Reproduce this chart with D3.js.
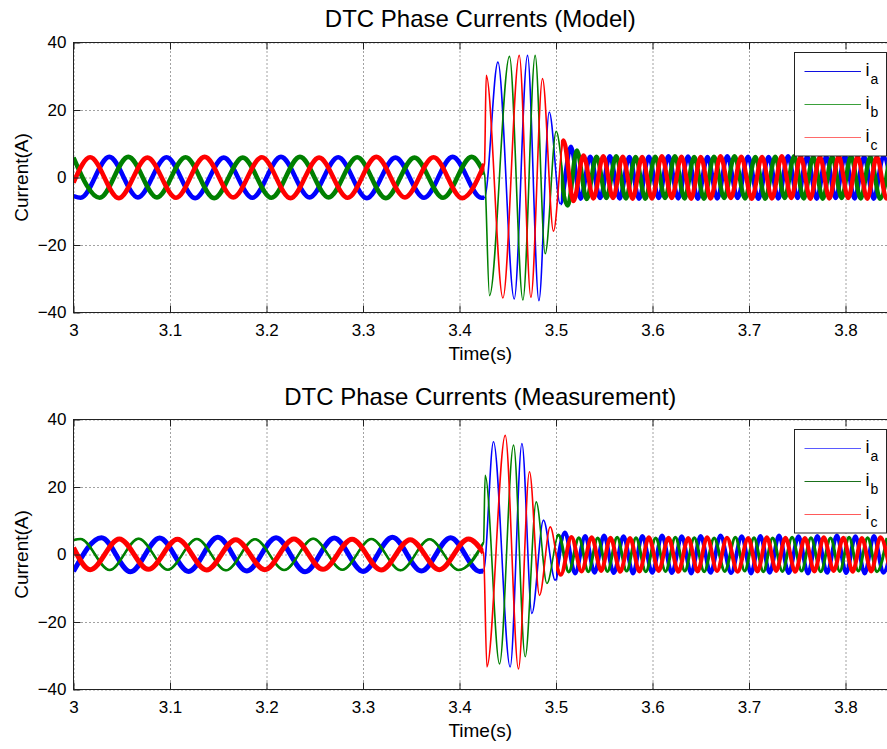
<!DOCTYPE html>
<html>
<head>
<meta charset="utf-8">
<script src="https://cdn.jsdelivr.net/npm/d3@7"></script>
<style>
  body { margin: 0; background: #fff; }
  svg { display: block; font-family: "Liberation Sans", Arial, sans-serif; }
</style>
</head>
<body>
<svg id="svg" width="887" height="749"></svg>
<script>
// axis ticks and labels
const xTicks = [3, 3.1, 3.2, 3.3, 3.4, 3.5, 3.6, 3.7, 3.8];
const yTicks = [-40, -20, 0, 20, 40];
const xDomain = [3, 3.85];
const yDomain = [-40, 40];
const legendNames = ["a", "b", "c"];
const titles = ["DTC Phase Currents (Model)", "DTC Phase Currents (Measurement)"];

// time the step hits and time the ringing has died out (s)
const modelStart = 3.4259, modelSettle = 3.505;
const measStart = 3.4249, measSettle = 3.500;

// waveform turning points: [time s, current A]
const modelIa = [
  [3.0,-5.5],[3.0075,-6.0],[3.0371,6.1],[3.0668,-5.9],[3.0964,6.0],[3.1261,-6.1],[3.1557,5.9],[3.1854,-6.0],
  [3.2150,6.1],[3.2447,-5.9],[3.2743,6.0],[3.3040,-6.1],[3.3336,5.9],[3.3633,-6.0],[3.3929,6.1],[3.4226,-6.0],[3.4259,-6.0],
  [3.4398,34.2],[3.4567,-36.0],[3.4705,36.2],[3.4823,-36.5],[3.4930,19.4],[3.5043,-7.8],[3.5154,9.1],
  [3.5255,-6.3],[3.5355,6.2],[3.5457,-6.1],[3.5558,6.3],[3.5659,-6.2],[3.5760,6.1],[3.5861,-6.3],[3.5962,6.2],
  [3.6064,-6.1],[3.6165,6.3],[3.6267,-6.2],[3.6368,6.2],[3.6469,-6.3],[3.6570,6.1],[3.6672,-6.2],[3.6775,6.3],
  [3.6882,-6.1],[3.6990,6.2],[3.7097,-6.3],[3.7203,6.1],[3.7304,-6.2],[3.7405,6.3],[3.7504,-6.1],[3.7603,6.2],
  [3.7702,-6.3],[3.7800,6.2],[3.7898,-6.1],[3.7995,6.3],[3.8094,-6.2],[3.8193,6.1],[3.8293,-6.3],[3.8393,6.2],[3.8493,-6.1]
];
const modelIb = [
  [3.0,5.9],[3.0272,-6.0],[3.0568,6.1],[3.0865,-5.9],[3.1161,6.0],[3.1458,-6.1],[3.1754,5.9],[3.2051,-6.0],
  [3.2347,6.1],[3.2644,-5.9],[3.2940,6.0],[3.3237,-6.1],[3.3533,5.9],[3.3830,-6.0],[3.4126,6.1],[3.4259,1.0],
  [3.4311,-35.0],[3.4518,35.9],[3.4657,-36.3],[3.4784,36.2],[3.4888,-22.6],[3.5002,13.7],[3.5123,-8.3],[3.5216,8.0],
  [3.5318,-6.4],[3.5420,6.2],[3.5522,-6.1],[3.5624,6.3],[3.5724,-6.2],[3.5825,6.1],[3.5926,-6.3],[3.6028,6.2],
  [3.6130,-6.1],[3.6232,6.3],[3.6332,-6.2],[3.6432,6.1],[3.6534,-6.3],[3.6637,6.2],[3.6743,-6.1],[3.6850,6.3],
  [3.6958,-6.2],[3.7066,6.1],[3.7169,-6.3],[3.7272,6.2],[3.7370,-6.1],[3.7468,6.3],[3.7567,-6.2],[3.7667,6.1],
  [3.7765,-6.3],[3.7862,6.2],[3.7960,-6.1],[3.8057,6.3],[3.8157,-6.2],[3.8258,6.1],[3.8358,-6.3],[3.8458,6.2]
];
const modelIc = [
  [3.0,-1.5],[3.0173,6.0],[3.0470,-6.1],[3.0766,5.9],[3.1063,-6.0],[3.1359,6.1],[3.1656,-5.9],[3.1952,6.0],
  [3.2249,-6.1],[3.2545,5.9],[3.2842,-6.0],[3.3138,6.1],[3.3435,-5.9],[3.3731,6.0],[3.4028,-6.1],[3.4259,4.0],
  [3.4277,30.3],[3.4450,-35.7],[3.4619,36.2],[3.4740,-35.5],[3.4860,29.3],[3.4974,-15.9],[3.5078,11.0],[3.5181,-7.0],
  [3.5285,6.5],[3.5388,-6.2],[3.5490,6.3],[3.5591,-6.1],[3.5692,6.2],[3.5793,-6.3],[3.5893,6.1],[3.5995,-6.2],
  [3.6097,6.3],[3.6199,-6.1],[3.6300,6.2],[3.6400,-6.3],[3.6500,6.1],[3.6603,-6.2],[3.6705,6.3],[3.6812,-6.1],
  [3.6920,6.2],[3.7028,-6.3],[3.7135,6.1],[3.7238,-6.2],[3.7340,6.3],[3.7438,-6.1],[3.7535,6.2],[3.7635,-6.3],
  [3.7735,6.1],[3.7833,-6.2],[3.7930,6.3],[3.8028,-6.1],[3.8125,6.2],[3.8225,-6.3],[3.8325,6.1],[3.8425,-6.2],[3.8525,6.3]
];

const measIa = [
  [3.0,-5.0],[3.0290,5.0],[3.0591,-5.1],[3.0893,4.9],[3.1194,-5.0],[3.1496,5.1],[3.1797,-4.9],[3.2099,5.0],
  [3.2400,-5.1],[3.2702,4.9],[3.3003,-5.0],[3.3305,5.1],[3.3606,-4.9],[3.3908,5.0],[3.4209,-5.0],[3.4249,-4.9],
  [3.4352,33.4],[3.4525,-33.3],[3.4647,32.9],[3.4750,-17.5],[3.4870,10.2],[3.4992,-7.6],
  [3.5093,6.5],[3.5198,-5.6],[3.5303,5.5],[3.5400,-5.4],[3.5498,5.6],[3.5599,-5.5],[3.5700,5.4],[3.5798,-5.6],
  [3.5895,5.5],[3.5997,-5.4],[3.6099,5.6],[3.6201,-5.5],[3.6303,5.4],[3.6401,-5.6],[3.6499,5.5],[3.6602,-5.4],
  [3.6705,5.6],[3.6815,-5.5],[3.6925,5.4],[3.7021,-5.6],[3.7118,5.5],[3.7215,-5.4],[3.7311,5.6],[3.7412,-5.5],
  [3.7513,5.4],[3.7611,-5.6],[3.7708,5.5],[3.7810,-5.4],[3.7911,5.6],[3.8007,-5.5],[3.8103,5.4],[3.8199,-5.6],
  [3.8295,5.5],[3.8393,-5.4],[3.8495,5.6]
];
const measIb = [
  [3.0,4.3],[3.0072,4.6],[3.0374,-4.6],[3.0675,4.7],[3.0977,-4.5],[3.1278,4.6],[3.1580,-4.7],[3.1881,4.5],
  [3.2183,-4.6],[3.2484,4.7],[3.2786,-4.5],[3.3087,4.6],[3.3389,-4.7],[3.3690,4.5],[3.3992,-4.6],[3.4249,3.5],
  [3.4266,23.5],[3.4415,-32.4],[3.4560,32.4],[3.4681,-30.3],[3.4795,15.6],[3.4906,-8.6],
  [3.5027,5.8],[3.5132,-5.2],[3.5237,5.0],[3.5335,-5.1],[3.5432,4.9],[3.5533,-5.0],[3.5634,5.1],[3.5732,-4.9],
  [3.5829,5.0],[3.5931,-5.1],[3.6033,4.9],[3.6135,-5.0],[3.6237,5.1],[3.6335,-4.9],[3.6433,5.0],[3.6536,-5.1],
  [3.6639,4.9],[3.6749,-5.0],[3.6859,5.1],[3.6955,-4.9],[3.7052,5.0],[3.7149,-5.1],[3.7245,4.9],[3.7346,-5.0],
  [3.7447,5.1],[3.7545,-4.9],[3.7642,5.0],[3.7744,-5.1],[3.7845,4.9],[3.7941,-5.0],[3.8037,5.1],[3.8133,-4.9],
  [3.8229,5.0],[3.8326,-5.1],[3.8429,4.9]
];
const measIc = [
  [3.0,2.0],[3.0173,-4.5],[3.0475,4.6],[3.0776,-4.4],[3.1078,4.5],[3.1379,-4.6],[3.1681,4.4],[3.1982,-4.5],
  [3.2284,4.6],[3.2585,-4.4],[3.2887,4.5],[3.3188,-4.6],[3.3490,4.4],[3.3791,-4.5],[3.4093,4.6],[3.4249,0.5],
  [3.4284,-33.3],[3.4474,35.3],[3.4611,-33.9],[3.4725,24.5],[3.4829,-12.1],[3.4940,8.2],
  [3.5050,-6.0],[3.5160,5.2],[3.5265,-5.0],[3.5370,5.1],[3.5468,-4.9],[3.5565,5.0],[3.5666,-5.1],[3.5767,4.9],
  [3.5865,-5.0],[3.5962,5.1],[3.6064,-4.9],[3.6166,5.0],[3.6268,-5.1],[3.6370,4.9],[3.6468,-5.0],[3.6566,5.1],
  [3.6669,-4.9],[3.6772,5.0],[3.6882,-5.1],[3.6992,4.9],[3.7088,-5.0],[3.7185,5.1],[3.7282,-4.9],[3.7378,5.0],
  [3.7479,-5.1],[3.7580,4.9],[3.7678,-5.0],[3.7775,5.1],[3.7877,-4.9],[3.7978,5.0],[3.8074,-5.1],[3.8170,4.9],
  [3.8266,-5.0],[3.8362,5.1],[3.8460,-4.9]
];

const svg = d3.select("#svg");
const defs = svg.append("defs");

// plot box in pixels
const left = 73.5, right = 893.75;

const panels = [
  {
    title: titles[0], top: 42.5, bottom: 312.5, titleY: 27, start: modelStart, settle: modelSettle,
    series: [
      { data: modelIa, color: "#0000ff", pre: 4.6, post: 4.4 },
      { data: modelIb, color: "#008000", pre: 4.6, post: 4.4 },
      { data: modelIc, color: "#ff0000", pre: 4.6, post: 4.4 }
    ],
    legendColors: ["#1010e0", "#3aa03a", "#ff6a6a"]
  },
  {
    title: titles[1], top: 419.5, bottom: 689.5, titleY: 405, start: measStart, settle: measSettle,
    series: [
      { data: measIa, color: "#0000ff", pre: 5, post: 4 },
      { data: measIb, color: "#008000", pre: 2.5, post: 3 },
      { data: measIc, color: "#ff0000", pre: 5, post: 4 }
    ],
    legendColors: ["#5a5aff", "#1a701a", "#ff5a5a"]
  }
];

function drawPanel(p, idx) {
  const x = d3.scaleLinear().domain(xDomain).range([left, right]);
  const y = d3.scaleLinear().domain(yDomain).range([p.bottom, p.top]);
  const h = p.bottom - p.top;
  const g = svg.append("g");

  // clip to plot area
  defs.append("clipPath").attr("id", "area" + idx)
    .append("rect").attr("x", left).attr("y", p.top).attr("width", right - left).attr("height", h);

  // steady-state parts get the thick noisy band
  const steady = defs.append("clipPath").attr("id", "steady" + idx);
  steady.append("rect").attr("x", left).attr("y", p.top)
    .attr("width", x(p.start) - left).attr("height", h);
  steady.append("rect").attr("x", x(p.settle)).attr("y", p.top)
    .attr("width", right - x(p.settle)).attr("height", h);

  // dotted grid
  const grid = g.append("g");
  grid.append("g")
    .attr("transform", `translate(0,${p.bottom})`)
    .call(d3.axisBottom(x).tickValues(xTicks).tickSize(-h).tickFormat(""));
  grid.append("g")
    .attr("transform", `translate(${left},0)`)
    .call(d3.axisLeft(y).tickValues(yTicks).tickSize(-(right - left)).tickFormat(""));
  grid.selectAll(".domain").remove();
  grid.selectAll("line")
    .attr("stroke", "#444")
    .attr("stroke-width", 1)
    .attr("stroke-dasharray", "1,3");

  // data lines
  const line = d3.line()
    .x(d => x(d[0]))
    .y(d => y(d[1]))
    .curve(d3.curveMonotoneX);

  const plot = g.append("g").attr("clip-path", `url(#area${idx})`);
  p.series.forEach(s => {
    plot.append("path")
      .datum(s.data)
      .attr("d", line)
      .attr("fill", "none")
      .attr("stroke", s.color)
      .attr("stroke-width", 1.6)
      .attr("stroke-linejoin", "round");
    // thick band outside the transient
    const thick = plot.append("g").attr("clip-path", `url(#steady${idx})`);
    thick.append("path")
      .datum(s.data.filter(d => d[0] <= p.start))
      .attr("d", line)
      .attr("fill", "none")
      .attr("stroke", s.color)
      .attr("stroke-width", s.pre)
      .attr("stroke-linejoin", "round");
    thick.append("path")
      .datum(s.data.filter(d => d[0] >= p.settle - 0.012))
      .attr("d", line)
      .attr("fill", "none")
      .attr("stroke", s.color)
      .attr("stroke-width", s.post)
      .attr("stroke-linejoin", "round");
  });

  // box
  g.append("rect")
    .attr("x", left).attr("y", p.top)
    .attr("width", right - left).attr("height", h)
    .attr("fill", "none").attr("stroke", "#222").attr("stroke-width", 1);

  // axes with inward ticks
  const xAxis = g.append("g")
    .attr("transform", `translate(0,${p.bottom})`)
    .call(d3.axisBottom(x).tickValues(xTicks).tickSizeInner(-7).tickSizeOuter(0).tickPadding(11)
      .tickFormat(d => d3.format("")(+d.toFixed(1))));
  g.append("g")
    .attr("transform", `translate(0,${p.top})`)
    .call(d3.axisTop(x).tickValues(xTicks).tickSizeInner(-7).tickSizeOuter(0).tickFormat(""));
  const yAxis = g.append("g")
    .attr("transform", `translate(${left},0)`)
    .call(d3.axisLeft(y).tickValues(yTicks).tickSizeInner(-7).tickSizeOuter(0).tickPadding(7));
  g.selectAll(".domain").remove();
  g.selectAll(".tick line").filter(function () { return this.getAttribute("stroke-dasharray") === null; })
    .attr("stroke", "#222");
  [xAxis, yAxis].forEach(a => a.selectAll("text")
    .attr("font-size", 17)
    .attr("font-family", "\"Liberation Sans\", Arial, sans-serif")
    .attr("fill", "#000"));

  // titles and axis labels
  g.append("text")
    .attr("x", (left + 887) / 2)
    .attr("y", p.titleY)
    .attr("text-anchor", "middle")
    .attr("font-size", 24)
    .text(p.title);
  g.append("text")
    .attr("x", (left + 887) / 2)
    .attr("y", p.bottom + 47)
    .attr("text-anchor", "middle")
    .attr("font-size", 19)
    .text("Time(s)");
  g.append("text")
    .attr("transform", `translate(28,${(p.top + p.bottom) / 2}) rotate(-90)`)
    .attr("text-anchor", "middle")
    .attr("font-size", 19)
    .text("Current(A)");

  // legend
  const lg = g.append("g").attr("transform", `translate(794.5,${p.top + 10})`);
  lg.append("rect")
    .attr("width", 92).attr("height", 103.5)
    .attr("fill", "#fff").attr("stroke", "#222").attr("stroke-width", 1);
  legendNames.forEach((n, i) => {
    const ry = 19 + i * 33;
    lg.append("line")
      .attr("x1", 10).attr("x2", 66.5)
      .attr("y1", ry).attr("y2", ry)
      .attr("stroke", p.legendColors[i]).attr("stroke-width", 1);
    lg.append("text")
      .attr("x", 71).attr("y", ry + 4.5)
      .attr("font-size", 18)
      .text("i");
    lg.append("text")
      .attr("x", 76).attr("y", ry + 12.5)
      .attr("font-size", 14)
      .text(n);
  });
}

panels.forEach(drawPanel);
</script>
</body>
</html>
